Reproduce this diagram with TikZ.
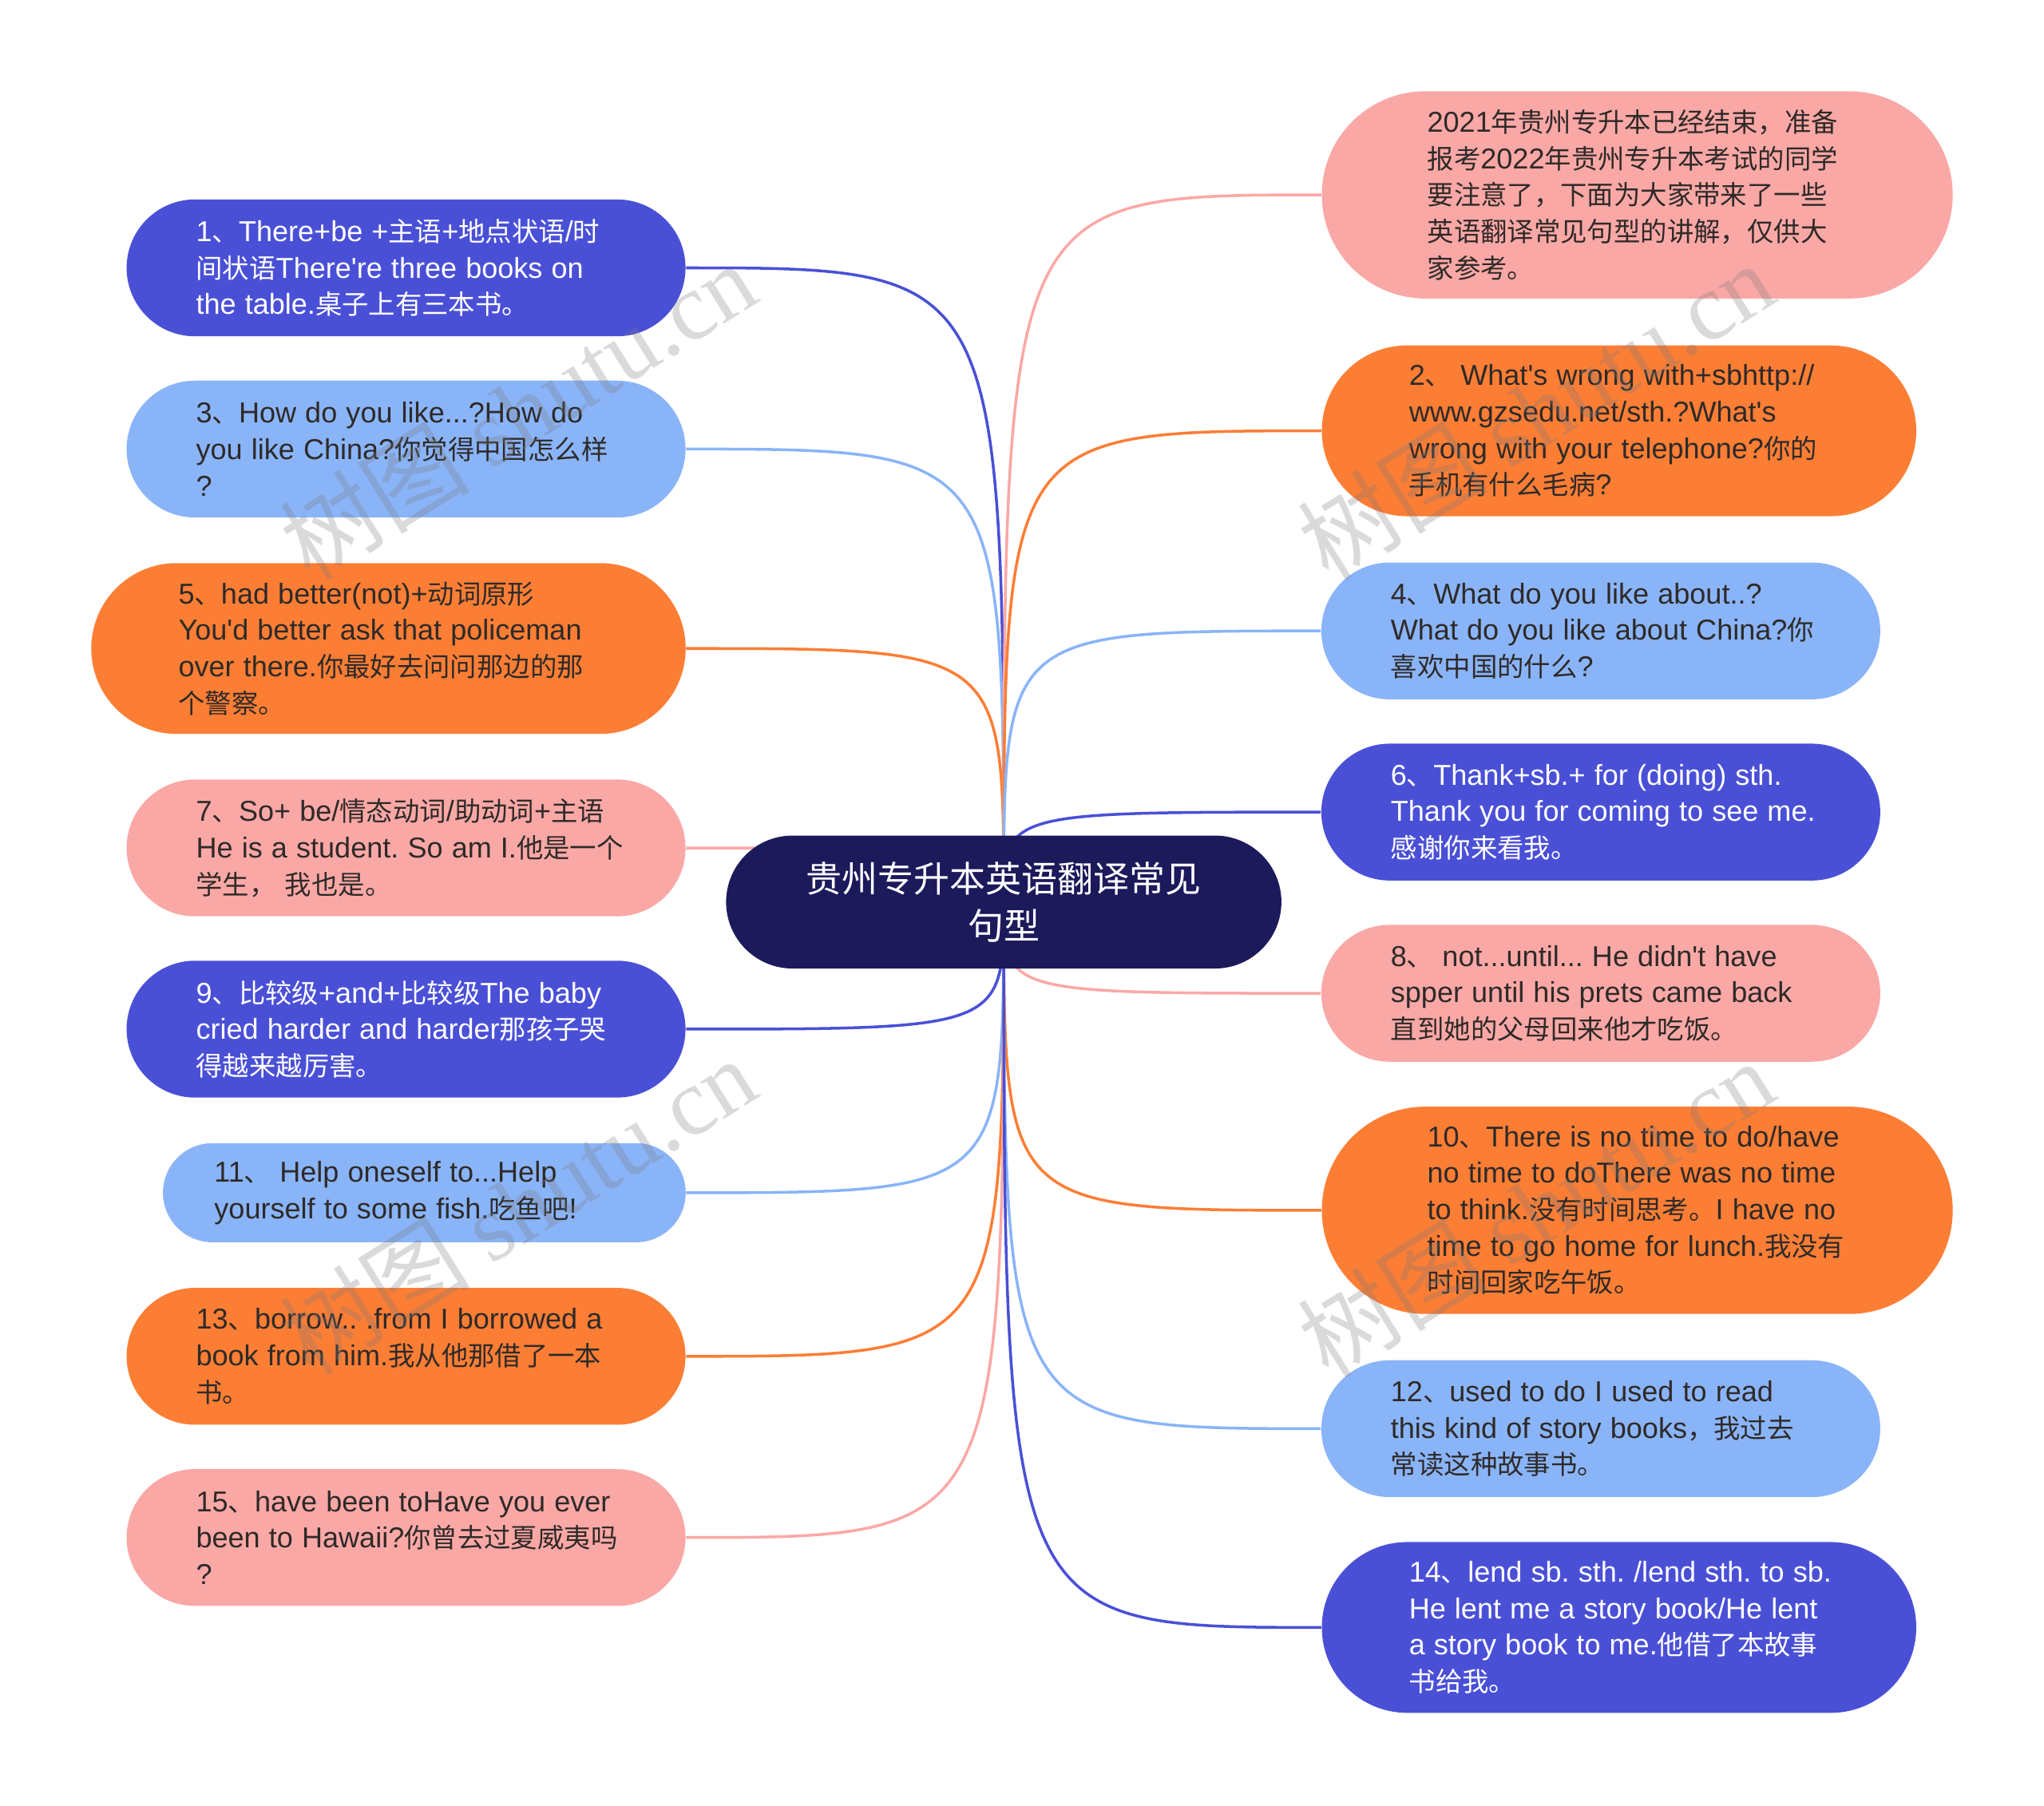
\documentclass[tikz,border=0pt]{standalone}
\usepackage{fontspec}
\usetikzlibrary{shapes.misc, backgrounds}

\setmainfont{Liberation Sans}
\newfontfamily\latf{Liberation Sans}[Scale=1.08]
\newfontfamily\cjkf{Noto Sans CJK SC}
\newfontfamily\wmlatf{Liberation Serif}
\newcommand{\curlat}{\latf}
\newcommand{\curcjk}{\cjkf}

% Hanzi runs in the CJK font, everything else in the Latin one
\XeTeXinterchartokenstate=1
\newXeTeXintercharclass\hanzicls
\newcount\hzi
\hzi="4E00
\loop\XeTeXcharclass\hzi=\hanzicls\ifnum\hzi<"9FFF\advance\hzi by 1\repeat
\hzi="3000
\loop\XeTeXcharclass\hzi=\hanzicls\ifnum\hzi<"303F\advance\hzi by 1\repeat
\hzi="FF00
\loop\XeTeXcharclass\hzi=\hanzicls\ifnum\hzi<"FFEF\advance\hzi by 1\repeat
\XeTeXinterchartoks 0 \hanzicls={\curcjk}
\XeTeXinterchartoks 4095 \hanzicls={\curcjk}
\XeTeXinterchartoks \hanzicls 0={\curlat}
\XeTeXinterchartoks 4095 0={\curlat}

\definecolor{cHub}{HTML}{1C1A5B}
\definecolor{cDkBlue}{HTML}{4A50D6}
\definecolor{cLtBlue}{HTML}{8AB4F8}
\definecolor{cOrange}{HTML}{FC7E35}
\definecolor{cPink}{HTML}{FAA8A6}
\definecolor{cText}{HTML}{2E2A28}
\definecolor{cWm}{HTML}{7A7A7A}

\begin{document}
\begin{tikzpicture}[
    x=0.016327cm, y=-0.016327cm,
    leaf/.style={rounded rectangle, minimum width=7cm, minimum height=1.714cm, text width=5.6cm, align=left, inner sep=0pt, execute at begin node={\leftskip=0.17cm}, font=\fontsize{9.5}{13}\selectfont\frenchspacing},
    dkblue/.style={leaf, fill=cDkBlue, text=white},
    ltblue/.style={leaf, fill=cLtBlue, text=cText},
    orng/.style={leaf, fill=cOrange, text=cText},
    pnk/.style={leaf, fill=cPink, text=cText},
    tall/.style={minimum width=7.445cm, minimum height=2.139cm},
    taller/.style={minimum width=7.902cm, minimum height=2.596cm},
    short/.style={minimum width=6.547cm, minimum height=1.241cm},
    hub/.style={rounded rectangle, fill=cHub, text=white, minimum width=6.955cm, minimum height=1.665cm, align=center, inner sep=0pt, font=\fontsize{12.8}{16.7}\selectfont},
    link/.style={line width=1pt},
    wmark/.style={rotate=32, text=cWm, opacity=0.28, inner sep=0pt, font=\def\curlat{\wmlatf}\fontsize{34}{34}\selectfont}
]
\useasboundingbox (0,0) rectangle (1568,1385);
% centre
\node[hub] (hub) at (770,692) {贵州专升本英语翻译常见\\句型};
% left column
\node[dkblue] (s1) at (311.5,205.5) {1、There+be +主语+地点状语/时\\间状语There're three books on\\the table.桌子上有三本书。};
\node[ltblue] (s3) at (311.5,344.5) {3、How do you like...?How do\\you like China?你觉得中国怎么样\\?};
\node[orng, tall] (s5) at (298,497.5) {5、had better(not)+动词原形\\You'd better ask that policeman\\over there.你最好去问问那边的那\\个警察。};
\node[pnk] (s7) at (311.5,650.5) {7、So+ be/情态动词/助动词+主语\\He is a student. So am I.他是一个\\学生， 我也是。};
\node[dkblue] (s9) at (311.5,789.5) {9、比较级+and+比较级The baby\\cried harder and harder那孩子哭\\得越来越厉害。};
\node[ltblue, short] (s11) at (325.5,915) {11、 Help oneself to...Help\\yourself to some fish.吃鱼吧!};
\node[orng] (s13) at (311.5,1040.5) {13、borrow.. .from I borrowed a\\book from him.我从他那借了一本\\书。};
\node[pnk] (s15) at (311.5,1179.5) {15、have been toHave you ever\\been to Hawaii?你曾去过夏威夷吗\\?};
% right column
\node[pnk, taller] (s0) at (1256,149.5) {2021年贵州专升本已经结束，准备\\报考2022年贵州专升本考试的同学\\要注意了，下面为大家带来了一些\\英语翻译常见句型的讲解，仅供大\\家参考。};
\node[orng, tall] (s2) at (1242,330.5) {2、 What's wrong with+sbhttp://\\www.gzsedu.net/sth.?What's\\wrong with your telephone?你的\\手机有什么毛病?};
\node[ltblue] (s4) at (1228,484) {4、What do you like about..?\\What do you like about China?你\\喜欢中国的什么?};
\node[dkblue] (s6) at (1228,623) {6、Thank+sb.+ for (doing) sth.\\Thank you for coming to see me.\\感谢你来看我。};
\node[pnk] (s8) at (1228,762) {8、 not...until... He didn't have\\spper until his prets came back\\直到她的父母回来他才吃饭。};
\node[orng, taller] (s10) at (1256,928.5) {10、There is no time to do/have\\no time to doThere was no time\\to think.没有时间思考。I have no\\time to go home for lunch.我没有\\时间回家吃午饭。};
\node[ltblue] (s12) at (1228,1096) {12、used to do I used to read\\this kind of story books，我过去\\常读这种故事书。};
\node[dkblue, tall] (s14) at (1242,1248.5) {14、lend sb. sth. /lend sth. to sb.\\He lent me a story book/He lent\\a story book to me.他借了本故事\\书给我。};
% branches
\begin{scope}[on background layer]
\draw[link, cDkBlue] (hub.center) .. controls (hub.center |- s1.east) .. (s1.east);
\draw[link, cLtBlue] (hub.center) .. controls (hub.center |- s3.east) .. (s3.east);
\draw[link, cOrange] (hub.center) .. controls (hub.center |- s5.east) .. (s5.east);
\draw[link, cPink] (hub.center) .. controls (hub.center |- s7.east) .. (s7.east);
\draw[link, cDkBlue] (hub.center) .. controls (hub.center |- s9.east) .. (s9.east);
\draw[link, cLtBlue] (hub.center) .. controls (hub.center |- s11.east) .. (s11.east);
\draw[link, cOrange] (hub.center) .. controls (hub.center |- s13.east) .. (s13.east);
\draw[link, cPink] (hub.center) .. controls (hub.center |- s15.east) .. (s15.east);
\draw[link, cPink] (hub.center) .. controls (hub.center |- s0.west) .. (s0.west);
\draw[link, cOrange] (hub.center) .. controls (hub.center |- s2.west) .. (s2.west);
\draw[link, cLtBlue] (hub.center) .. controls (hub.center |- s4.west) .. (s4.west);
\draw[link, cDkBlue] (hub.center) .. controls (hub.center |- s6.west) .. (s6.west);
\draw[link, cPink] (hub.center) .. controls (hub.center |- s8.west) .. (s8.west);
\draw[link, cOrange] (hub.center) .. controls (hub.center |- s10.west) .. (s10.west);
\draw[link, cLtBlue] (hub.center) .. controls (hub.center |- s12.west) .. (s12.west);
\draw[link, cDkBlue] (hub.center) .. controls (hub.center |- s14.west) .. (s14.west);
\end{scope}
% watermarks
\node[wmark] (wm1) at (397,315) {树图 shutu.cn};
\node[wmark] (wm2) at (1178,315) {树图 shutu.cn};
\node[wmark] (wm3) at (397,925) {树图 shutu.cn};
\node[wmark] (wm4) at (1178,927) {树图 shutu.cn};
\end{tikzpicture}
\end{document}
